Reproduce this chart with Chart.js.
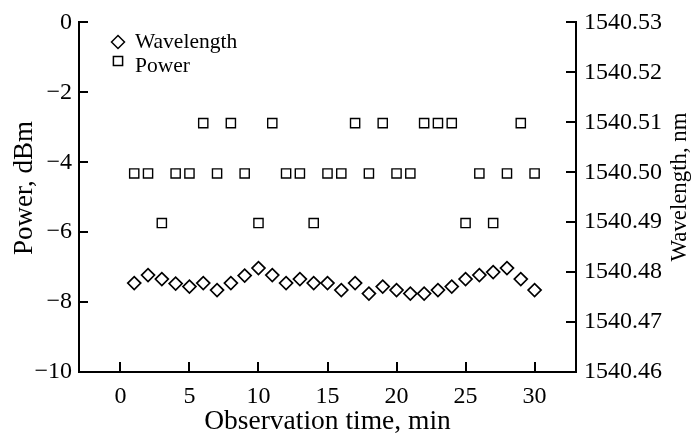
<!DOCTYPE html>
<html>
<head>
<meta charset="utf-8">
<script src="https://cdn.jsdelivr.net/npm/chart.js@4/dist/chart.umd.min.js"></script>
<style>
  html, body { margin: 0; padding: 0; background: #ffffff; }
  #wrap { width: 696px; height: 436px; position: relative; }
</style>
</head>
<body>
<div id="wrap"><canvas id="c" width="696" height="436"></canvas></div>
<script>
// ---- data ----
const minutes = [1,2,3,4,5,6,7,8,9,10,11,12,13,14,15,16,17,18,19,20,21,22,23,24,25,26,27,28,29,30];
const wavelength = [1540.4778,1540.4794,1540.4786,1540.4777,1540.4771,1540.4778,1540.4764,1540.4778,1540.4793,1540.4808,
                    1540.4794,1540.4778,1540.4786,1540.4778,1540.4778,1540.4764,1540.4778,1540.4757,1540.4771,1540.4764,
                    1540.4757,1540.4757,1540.4764,1540.4771,1540.4786,1540.4794,1540.4800,1540.4808,1540.4786,1540.4764];
const power = [-4.32,-4.32,-5.74,-4.32,-4.32,-2.88,-4.32,-2.88,-4.32,-5.74,
               -2.88,-4.32,-4.32,-5.74,-4.32,-4.32,-2.88,-4.32,-2.88,-4.32,
               -4.32,-2.88,-2.88,-2.88,-5.74,-4.32,-5.74,-4.32,-2.88,-4.32];
const xTicks = [0,5,10,15,20,25,30];
const powerTicks = [0,-2,-4,-6,-8,-10];
const wlTicks = [1540.46,1540.47,1540.48,1540.49,1540.50,1540.51,1540.52,1540.53];
const seriesNames = ['Wavelength','Power'];
const xTitle = 'Observation time, min';
const yLeftTitle = 'Power, dBm';
const yRightTitle = 'Wavelength, nm';

const FONT = "'Liberation Serif', 'Times New Roman', serif";
const fmtMinus = v => (v < 0 ? '\u2212' + Math.abs(v) : String(v));

const inwardTicks = {
  id: 'inwardTicks',
  afterDraw(chart) {
    const ctx = chart.ctx;
    const x = chart.scales.x, yl = chart.scales.y, yr = chart.scales.y2;
    const a = chart.chartArea;
    ctx.save();
    ctx.strokeStyle = '#000';
    ctx.lineWidth = 2;
    ctx.beginPath();
    x.ticks.forEach(t => { const px = Math.round(x.getPixelForValue(t.value)); ctx.moveTo(px, a.bottom); ctx.lineTo(px, a.bottom - 10); });
    yl.ticks.forEach(t => { const py = Math.round(yl.getPixelForValue(t.value)); ctx.moveTo(a.left, py); ctx.lineTo(a.left + 9, py); });
    yr.ticks.forEach(t => { const py = Math.round(yr.getPixelForValue(t.value)); ctx.moveTo(a.right, py); ctx.lineTo(a.right - 10, py); });
    ctx.stroke();

    // rotated axis titles
    ctx.fillStyle = '#000';
    ctx.textAlign = 'center';
    ctx.textBaseline = 'middle';
    ctx.font = "27px " + FONT;
    ctx.save(); ctx.translate(25, 188); ctx.rotate(-Math.PI / 2); ctx.fillText(yLeftTitle, 0, 0); ctx.restore();
    ctx.font = "22.8px " + FONT;
    ctx.save(); ctx.translate(680, 187); ctx.rotate(-Math.PI / 2); ctx.fillText(yRightTitle, 0, 0); ctx.restore();

    // legend
    const ds = chart.data.datasets;
    ctx.lineWidth = 1.5;
    ctx.strokeStyle = '#000';
    ctx.fillStyle = 'rgba(0,0,0,0)';
    Chart.helpers.drawPoint(ctx, {pointStyle: ds[0].pointStyle, radius: 6.5, borderWidth: 1.5}, 118, 42);
    Chart.helpers.drawPoint(ctx, {pointStyle: ds[1].pointStyle, radius: 6.5, borderWidth: 1.5}, 118, 61);
    ctx.fillStyle = '#000';
    ctx.font = "21.5px " + FONT;
    ctx.textAlign = 'left';
    ctx.textBaseline = 'alphabetic';
    ctx.fillText(ds[0].label, 135, 48);
    ctx.fillText(ds[1].label, 135, 72);
    ctx.restore();
  }
};

const whiteBg = {
  id: 'whiteBg',
  beforeDraw(chart) {
    const ctx = chart.ctx;
    ctx.save(); ctx.fillStyle = '#fff'; ctx.fillRect(0, 0, chart.width, chart.height); ctx.restore();
  }
};

new Chart(document.getElementById('c'), {
  type: 'scatter',
  data: {
    datasets: [
      {
        label: seriesNames[0],
        data: minutes.map((m, i) => ({x: m, y: wavelength[i]})),
        yAxisID: 'y2',
        pointStyle: 'rectRot',
        pointRadius: 6.5,
        pointBorderWidth: 1.7,
        borderColor: '#000',
        backgroundColor: 'rgba(0,0,0,0)',
        showLine: false
      },
      {
        label: seriesNames[1],
        data: minutes.map((m, i) => ({x: m, y: power[i]})),
        yAxisID: 'y',
        pointStyle: 'rect',
        pointRadius: 6.5,
        pointBorderWidth: 1.4,
        borderColor: '#000',
        backgroundColor: 'rgba(0,0,0,0)',
        showLine: false
      }
    ]
  },
  options: {
    responsive: false,
    animation: false,
    devicePixelRatio: 1,
    layout: { padding: { top: 16, left: 0, right: 0, bottom: 0 } },
    plugins: { legend: { display: false }, tooltip: { enabled: false } },
    scales: {
      x: {
        type: 'linear', min: -3, max: 33,
        afterBuildTicks: s => { s.ticks = xTicks.map(v => ({value: v})); },
        afterFit: s => { s.height = 64; },
        grid: { display: false, drawTicks: false },
        border: { display: true, color: '#000', width: 2 },
        ticks: { color: '#000', font: { family: FONT, size: 24 }, padding: 10, maxRotation: 0, autoSkip: false },
        title: { display: true, text: xTitle, color: '#000', font: { family: FONT, size: 27.5, lineHeight: 1.0 }, padding: { top: 0, bottom: 0 } }
      },
      y: {
        position: 'left', min: -10, max: 0,
        afterBuildTicks: s => { s.ticks = powerTicks.map(v => ({value: v})); },
        afterFit: s => { s.width = 79; },
        grid: { display: false, drawTicks: false },
        border: { display: true, color: '#000', width: 2 },
        ticks: { color: '#000', font: { family: FONT, size: 24 }, padding: 7, callback: v => fmtMinus(v) }
      },
      y2: {
        position: 'right', min: 1540.46, max: 1540.53,
        afterBuildTicks: s => { s.ticks = wlTicks.map(v => ({value: v})); },
        afterFit: s => { s.width = 120; },
        grid: { display: false, drawTicks: false },
        border: { display: true, color: '#000', width: 2 },
        ticks: { color: '#000', font: { family: FONT, size: 24 }, padding: 8, callback: v => Number(v).toFixed(2) }
      }
    }
  },
  plugins: [whiteBg, inwardTicks]
});
</script>
</body>
</html>
